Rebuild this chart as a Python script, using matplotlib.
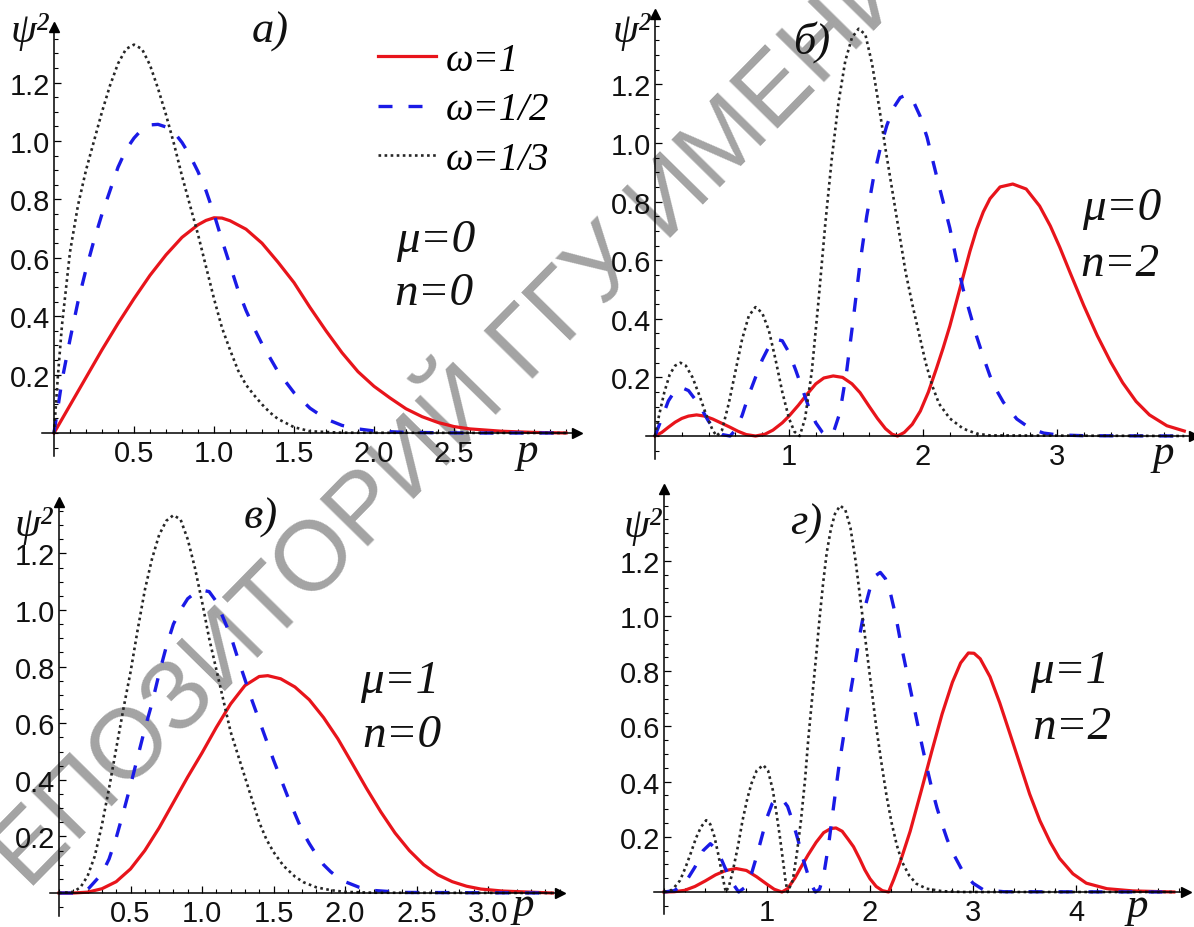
import matplotlib
matplotlib.use("Agg")
import matplotlib.pyplot as plt
from matplotlib.ticker import MultipleLocator
from matplotlib.font_manager import FontProperties

W, H = 1194, 928

# ---- панель а) mu=0, n=0 ----
p_a_w1 = [0, 0.1, 0.2, 0.3, 0.4, 0.5, 0.6, 0.7, 0.8, 0.9, 0.95, 1.0, 1.05, 1.1, 1.2, 1.3, 1.4, 1.5,
          1.6, 1.7, 1.8, 1.9, 2.0, 2.1, 2.2, 2.3, 2.4, 2.5, 2.6, 2.8, 3.0, 3.2]
v_a_w1 = [0, 0.095, 0.19, 0.285, 0.375, 0.46, 0.54, 0.61, 0.67, 0.713, 0.728, 0.737, 0.736, 0.727,
          0.698, 0.65, 0.585, 0.515, 0.43, 0.35, 0.275, 0.21, 0.16, 0.12, 0.083, 0.056, 0.036,
          0.022, 0.014, 0.006, 0.002, 0.0]
p_a_w2 = [0, 0.05, 0.1, 0.15, 0.2, 0.25, 0.3, 0.35, 0.4, 0.45, 0.5, 0.55, 0.6, 0.65, 0.7, 0.75, 0.8,
          0.85, 0.9, 0.95, 1.0, 1.05, 1.1, 1.15, 1.2, 1.25, 1.3, 1.4, 1.5, 1.6, 1.7, 1.8, 1.9, 2.0,
          2.2, 2.6, 3.2]
v_a_w2 = [0, 0.18, 0.32, 0.45, 0.56, 0.66, 0.75, 0.83, 0.91, 0.97, 1.01, 1.04, 1.055, 1.057, 1.048,
          1.03, 0.995, 0.95, 0.895, 0.83, 0.75, 0.66, 0.575, 0.49, 0.42, 0.36, 0.305, 0.21, 0.138,
          0.085, 0.048, 0.026, 0.014, 0.007, 0.002, 0.0, 0.0]
p_a_w3 = [0, 0.025, 0.05, 0.1, 0.15, 0.2, 0.25, 0.3, 0.35, 0.4, 0.45, 0.5, 0.55, 0.6, 0.65, 0.7,
          0.75, 0.8, 0.85, 0.9, 0.95, 1.0, 1.05, 1.1, 1.15, 1.2, 1.25, 1.3, 1.35, 1.4, 1.5, 1.6,
          1.8, 3.2]
v_a_w3 = [0, 0.2, 0.37, 0.62, 0.78, 0.9, 1.0, 1.1, 1.19, 1.265, 1.315, 1.33, 1.315, 1.26, 1.18,
          1.09, 0.99, 0.88, 0.78, 0.68, 0.57, 0.46, 0.36, 0.285, 0.215, 0.165, 0.13, 0.098, 0.07,
          0.048, 0.02, 0.006, 0.001, 0.0]

# ---- панель б) mu=0, n=2 ----
p_b_w1 = [0, 0.05, 0.1, 0.15, 0.2, 0.25, 0.31, 0.37, 0.43, 0.5, 0.56, 0.62, 0.68, 0.75, 0.82, 0.88,
          0.95, 1.0, 1.07, 1.13, 1.2, 1.26, 1.33, 1.4, 1.47, 1.53, 1.6, 1.66, 1.72, 1.77, 1.81,
          1.86, 1.92, 1.98, 2.04, 2.1, 2.15, 2.2, 2.25, 2.3, 2.35, 2.4, 2.45, 2.5, 2.575, 2.67,
          2.77, 2.87, 2.95, 3.02, 3.1, 3.2, 3.3, 3.4, 3.49, 3.59, 3.69, 3.82, 3.95]
v_b_w1 = [0, 0.012, 0.03, 0.047, 0.06, 0.068, 0.072, 0.068, 0.058, 0.043, 0.03, 0.016, 0.005, 0,
          0.006, 0.02, 0.045, 0.068, 0.105, 0.14, 0.178, 0.198, 0.205, 0.2, 0.178, 0.148, 0.1,
          0.06, 0.025, 0.006, 0, 0.012, 0.04, 0.085, 0.15, 0.23, 0.3, 0.375, 0.46, 0.545, 0.63,
          0.705, 0.765, 0.81, 0.85, 0.86, 0.843, 0.785, 0.717, 0.645, 0.555, 0.445, 0.343,
          0.253, 0.182, 0.118, 0.072, 0.035, 0.017]
p_b_w2 = [0, 0.05, 0.1, 0.15, 0.2, 0.25, 0.3, 0.35, 0.4, 0.45, 0.5, 0.56, 0.6, 0.65, 0.7, 0.75, 0.8,
          0.85, 0.9, 0.95, 1.0, 1.05, 1.1, 1.15, 1.2, 1.25, 1.28, 1.33, 1.38, 1.43, 1.48, 1.53,
          1.58, 1.63, 1.68, 1.73, 1.78, 1.83, 1.88, 1.93, 1.98, 2.03, 2.1, 2.15, 2.2, 2.25, 2.3,
          2.35, 2.4, 2.45, 2.5, 2.55, 2.6, 2.7, 2.8, 2.9, 3.0, 3.2, 3.95]
v_b_w2 = [0, 0.06, 0.12, 0.155, 0.165, 0.155, 0.125, 0.09, 0.05, 0.02, 0.005, 0, 0.02, 0.07, 0.14,
          0.2, 0.26, 0.305, 0.33, 0.325, 0.285, 0.225, 0.16, 0.095, 0.045, 0.012, 0, 0.01, 0.08,
          0.22, 0.4, 0.59, 0.75, 0.88, 0.98, 1.06, 1.12, 1.155, 1.165, 1.14, 1.09, 1.02, 0.89,
          0.8, 0.71, 0.6, 0.5, 0.42, 0.34, 0.27, 0.205, 0.155, 0.115, 0.058, 0.026, 0.01, 0.004,
          0.001, 0]
p_b_w3 = [0, 0.03, 0.07, 0.11, 0.15, 0.19, 0.23, 0.28, 0.33, 0.38, 0.43, 0.46, 0.5, 0.55, 0.6,
          0.65, 0.7, 0.75, 0.8, 0.85, 0.9, 0.95, 1.0, 1.04, 1.08, 1.12, 1.17, 1.22, 1.27, 1.32,
          1.37, 1.42, 1.47, 1.52, 1.57, 1.62, 1.67, 1.72, 1.77, 1.82, 1.87, 1.92, 1.97, 2.02,
          2.07, 2.12, 2.2, 2.3, 2.4, 2.5, 3.95]
v_b_w3 = [0, 0.07, 0.15, 0.21, 0.24, 0.25, 0.24, 0.2, 0.14, 0.075, 0.02, 0, 0.02, 0.11, 0.22, 0.33,
          0.41, 0.44, 0.42, 0.36, 0.26, 0.15, 0.06, 0.015, 0, 0.06, 0.22, 0.46, 0.72, 0.95, 1.14,
          1.28, 1.36, 1.39, 1.37, 1.27, 1.13, 0.98, 0.84, 0.7, 0.56, 0.45, 0.35, 0.25, 0.17,
          0.11, 0.06, 0.025, 0.008, 0.002, 0]

# ---- панель в) mu=1, n=0 ----
p_c_w1 = [0, 0.1, 0.2, 0.3, 0.4, 0.5, 0.6, 0.7, 0.8, 0.9, 1.0, 1.1, 1.2, 1.3, 1.4, 1.46, 1.55,
          1.65, 1.75, 1.85, 1.95, 2.05, 2.15, 2.25, 2.35, 2.45, 2.55, 2.65, 2.75, 2.85, 2.95,
          3.1, 3.3, 3.45]
v_c_w1 = [0, 0.0, 0.003, 0.015, 0.04, 0.085, 0.15, 0.23, 0.32, 0.41, 0.495, 0.585, 0.668, 0.733,
          0.765, 0.768, 0.757, 0.728, 0.683, 0.62, 0.545, 0.458, 0.37, 0.287, 0.212, 0.15, 0.1,
          0.064, 0.04, 0.024, 0.014, 0.007, 0.003, 0.0]
p_c_w2 = [0, 0.1, 0.2, 0.3, 0.35, 0.4, 0.45, 0.5, 0.55, 0.6, 0.65, 0.7, 0.75, 0.8, 0.85, 0.9, 0.95,
          1.0, 1.05, 1.1, 1.15, 1.2, 1.25, 1.3, 1.35, 1.4, 1.45, 1.5, 1.55, 1.6, 1.65, 1.7, 1.75,
          1.8, 1.85, 1.9, 1.95, 2.0, 2.1, 2.2, 2.4, 3.45]
v_c_w2 = [0, 0.0, 0.012, 0.068, 0.12, 0.195, 0.285, 0.38, 0.48, 0.58, 0.67, 0.775, 0.87, 0.95, 1.0,
          1.04, 1.06, 1.07, 1.065, 1.03, 0.97, 0.91, 0.83, 0.755, 0.68, 0.61, 0.54, 0.47, 0.405,
          0.34, 0.28, 0.22, 0.175, 0.135, 0.1, 0.075, 0.055, 0.04, 0.02, 0.009, 0.002, 0]
p_c_w3 = [0, 0.1, 0.15, 0.2, 0.25, 0.3, 0.35, 0.4, 0.45, 0.5, 0.55, 0.6, 0.65, 0.7, 0.75, 0.8,
          0.85, 0.9, 0.95, 1.0, 1.05, 1.1, 1.15, 1.2, 1.25, 1.3, 1.35, 1.4, 1.45, 1.5, 1.57,
          1.65, 1.71, 1.8, 1.9, 2.0, 2.2, 3.45]
v_c_w3 = [0, 0.004, 0.02, 0.06, 0.13, 0.24, 0.37, 0.51, 0.65, 0.78, 0.93, 1.07, 1.18, 1.265,
          1.315, 1.335, 1.32, 1.25, 1.15, 1.03, 0.9, 0.79, 0.68, 0.57, 0.49, 0.41, 0.33, 0.25,
          0.19, 0.145, 0.096, 0.058, 0.038, 0.02, 0.01, 0.004, 0.001, 0]

# ---- панель г) mu=1, n=2 ----
p_d_w1 = [0, 0.1, 0.2, 0.3, 0.4, 0.5, 0.6, 0.7, 0.8, 0.9, 1.0, 1.07, 1.145, 1.2, 1.27, 1.33, 1.4,
          1.477, 1.55, 1.62, 1.67, 1.73, 1.79, 1.84, 1.9, 1.95, 2.0, 2.06, 2.12, 2.18, 2.23, 2.29,
          2.39, 2.5, 2.6, 2.7, 2.8, 2.88, 2.955, 3.01, 3.07, 3.165, 3.26, 3.36, 3.46, 3.55,
          3.65, 3.75, 3.84, 3.97, 4.1, 4.3, 4.55, 4.85, 4.95]
v_d_w1 = [0, 0.001, 0.006, 0.02, 0.04, 0.062, 0.078, 0.085, 0.078, 0.055, 0.028, 0.01, 0, 0.012,
          0.05, 0.09, 0.135, 0.18, 0.215, 0.23, 0.232, 0.22, 0.19, 0.164, 0.12, 0.08, 0.048, 0.02,
          0.005, 0, 0.045, 0.105, 0.22, 0.37, 0.51, 0.645, 0.76, 0.83, 0.866, 0.865, 0.845,
          0.78, 0.685, 0.572, 0.458, 0.355, 0.258, 0.18, 0.122, 0.066, 0.032, 0.012, 0.004,
          0.001, 0]
p_d_w2 = [0, 0.1, 0.2, 0.3, 0.38, 0.45, 0.52, 0.59, 0.66, 0.725, 0.78, 0.85, 0.9, 0.95, 1.0, 1.05,
          1.1, 1.15, 1.2, 1.25, 1.3, 1.35, 1.4, 1.44, 1.47, 1.51, 1.55, 1.6, 1.65, 1.7, 1.75, 1.8,
          1.85, 1.9, 1.95, 2.0, 2.05, 2.1, 2.15, 2.2, 2.25, 2.3, 2.35, 2.4, 2.45, 2.5, 2.55, 2.6,
          2.65, 2.7, 2.75, 2.8, 2.9, 3.0, 3.1, 3.3, 4.95]
v_d_w2 = [0, 0.005, 0.03, 0.09, 0.15, 0.175, 0.15, 0.09, 0.035, 0, 0.015, 0.067, 0.13, 0.2, 0.27,
          0.32, 0.34, 0.335, 0.31, 0.255, 0.19, 0.12, 0.06, 0.02, 0, 0.01, 0.06, 0.176, 0.32,
          0.46, 0.58, 0.7, 0.81, 0.93, 1.03, 1.1, 1.145, 1.158, 1.135, 1.08, 1.0, 0.9, 0.81,
          0.72, 0.63, 0.54, 0.455, 0.375, 0.305, 0.245, 0.19, 0.145, 0.075, 0.032, 0.008, 0.001,
          0]
p_d_w3 = [0, 0.08, 0.156, 0.21, 0.264, 0.31, 0.36, 0.41, 0.45, 0.49, 0.525, 0.557, 0.58, 0.6,
          0.63, 0.67, 0.72, 0.763, 0.81, 0.85, 0.9, 0.963, 1.01, 1.056, 1.09, 1.125, 1.16, 1.18,
          1.2, 1.25, 1.29, 1.33, 1.37, 1.4, 1.44, 1.477, 1.51, 1.545, 1.58, 1.62, 1.66, 1.71,
          1.76, 1.81, 1.86, 1.91, 1.96, 2.01, 2.06, 2.11, 2.16, 2.21, 2.26, 2.31, 2.38, 2.45,
          2.55, 2.7, 2.9, 4.95]
v_d_w3 = [0, 0.008, 0.042, 0.09, 0.145, 0.195, 0.236, 0.26, 0.245, 0.2, 0.14, 0.079, 0.035, 0,
          0.02, 0.079, 0.17, 0.26, 0.34, 0.394, 0.44, 0.46, 0.44, 0.37, 0.29, 0.2, 0.1, 0.04, 0,
          0.042, 0.14, 0.26, 0.41, 0.55, 0.71, 0.855, 0.99, 1.12, 1.23, 1.315, 1.37, 1.4, 1.385,
          1.32, 1.2, 1.05, 0.9, 0.75, 0.6, 0.47, 0.35, 0.25, 0.17, 0.11, 0.06, 0.03, 0.012,
          0.003, 0, 0]

legend_labels = ["ω=1", "ω=1/2", "ω=1/3"]
y_ticks = [0.2, 0.4, 0.6, 0.8, 1.0, 1.2]
x_ticks_a = [0.5, 1.0, 1.5, 2.0, 2.5]
x_ticks_b = [1, 2, 3]
x_ticks_c = [0.5, 1.0, 1.5, 2.0, 2.5, 3.0]
x_ticks_d = [1, 2, 3, 4]

RED = "#e8141b"
BLUE = "#1a1ae6"
GREY = "#262626"

serif_it = dict(family="Liberation Serif", style="italic", color="#111111")

fig = plt.figure(figsize=(W / 100, H / 100), dpi=100)
fig.patch.set_facecolor("white")

# водяной знак (в оригинале тоже обрезан краями)
fig.text(432 / W, 1 - 444 / H, "РЕПОЗИТОРИЙ ГГУ ИМЕНИ", rotation=45.5, rotation_mode="anchor",
         ha="center", va="center", fontsize=71, family="Liberation Sans", color="#a3a3a3",
         zorder=-5)


def make_ax(ox, oy, sx, sy, xlim, ylim, xticks, xfmt, xminor):
    left = ox + xlim[0] * sx
    top = oy - ylim[1] * sy
    w = (xlim[1] - xlim[0]) * sx
    h = (ylim[1] - ylim[0]) * sy
    ax = fig.add_axes([left / W, 1 - (top + h) / H, w / W, h / H])
    ax.set_xlim(xlim)
    ax.set_ylim(ylim)
    ax.set_facecolor("none")
    for s in ("top", "right"):
        ax.spines[s].set_visible(False)
    for s in ("left", "bottom"):
        ax.spines[s].set_position(("data", 0))
        ax.spines[s].set_linewidth(1.1)
    ax.plot(1, 0, ">", color="k", ms=7, transform=ax.get_yaxis_transform(), clip_on=False)
    ax.plot(0, 1, "^", color="k", ms=7, transform=ax.get_xaxis_transform(), clip_on=False)
    ax.set_xticks(xticks)
    ax.set_xticklabels([xfmt.format(t) for t in xticks])
    ax.set_yticks(y_ticks)
    ax.set_yticklabels(["{:.1f}".format(t) for t in y_ticks])
    ax.xaxis.set_minor_locator(MultipleLocator(xminor))
    ax.yaxis.set_minor_locator(MultipleLocator(0.05))
    ax.tick_params(which="major", direction="in", length=5, width=0.9, labelsize=21)
    ax.tick_params(which="minor", direction="in", length=3, width=0.8)
    ax.tick_params(axis="x", which="major", pad=4)
    ax.tick_params(axis="y", which="major", pad=3)
    for lab in ax.get_xticklabels() + ax.get_yticklabels():
        lab.set_family("Liberation Sans")
        lab.set_color("#111111")
    return ax


def curves(ax, p1, v1, p2, v2, p3, v3):
    l1, = ax.plot(p1, v1, color=RED, lw=2.3, solid_joinstyle="round", clip_on=False)
    l2, = ax.plot(p2, v2, color=BLUE, lw=2.4, dashes=(4.2, 4.8), clip_on=False)
    l3, = ax.plot(p3, v3, color=GREY, lw=1.9, linestyle=(0, (1, 1.3)), clip_on=False)
    return [l1, l2, l3]


def labels(psi_xy, letter, letter_xy, p_xy, mu, mu_xy, n, n_xy):
    fig.text(psi_xy[0] / W, 1 - psi_xy[1] / H, "ψ²", ha="center", va="center", fontsize=30,
             **serif_it)
    fig.text(letter_xy[0] / W, 1 - letter_xy[1] / H, letter, ha="center", va="center",
             fontsize=32, **serif_it)
    fig.text(p_xy[0] / W, 1 - p_xy[1] / H, "p", ha="center", va="baseline", fontsize=31,
             **serif_it)
    fig.text(mu_xy[0] / W, 1 - mu_xy[1] / H, mu, ha="center", va="baseline", fontsize=34,
             **serif_it)
    fig.text(n_xy[0] / W, 1 - n_xy[1] / H, n, ha="center", va="baseline", fontsize=34,
             **serif_it)


# а)
ax_a = make_ax(54, 434, 160, 292, (-0.075, 3.27), (-0.08, 1.39), x_ticks_a, "{:.1f}", 0.1)
lines = curves(ax_a, p_a_w1, v_a_w1, p_a_w2, v_a_w2, p_a_w3, v_a_w3)
labels((30, 32), "а)", (270, 32), (527, 462), "μ=0", (436, 252), "n=0", (434, 305))
ax_a.legend(lines, legend_labels, loc="upper left", bbox_to_anchor=(378 / W, 1 - 43 / H),
            bbox_transform=fig.transFigure, frameon=False,
            prop=FontProperties(family="Liberation Serif", style="italic", size=28),
            handlelength=1.5, handletextpad=0.23, labelspacing=0.32, borderpad=0,
            borderaxespad=0)

# б)
ax_b = make_ax(655, 437, 134, 293, (-0.07, 4.02), (-0.08, 1.44), x_ticks_b, "{:d}", 0.2)
curves(ax_b, p_b_w1, v_b_w1, p_b_w2, v_b_w2, p_b_w3, v_b_w3)
labels((632, 32), "б)", (812, 42), (1163, 464), "μ=0", (1122, 220), "n=2", (1120, 276))

# в)
ax_c = make_ax(59, 894, 143, 283, (-0.06, 3.5), (-0.08, 1.38), x_ticks_c, "{:.1f}", 0.1)
curves(ax_c, p_c_w1, v_c_w1, p_c_w2, v_c_w2, p_c_w3, v_c_w3)
labels((34, 526), "в)", (261, 518), (523, 916), "μ=1", (400, 693), "n=0", (402, 747))

# г)
ax_d = make_ax(664, 893, 103, 276, (-0.1, 5.07), (-0.08, 1.46), x_ticks_d, "{:d}", 0.2)
curves(ax_d, p_d_w1, v_d_w1, p_d_w2, v_d_w2, p_d_w3, v_d_w3)
labels((643, 527), "г)", (806, 524), (1137, 917), "μ=1", (1070, 683), "n=2", (1072, 739))

fig.savefig("out.png", dpi=100)
